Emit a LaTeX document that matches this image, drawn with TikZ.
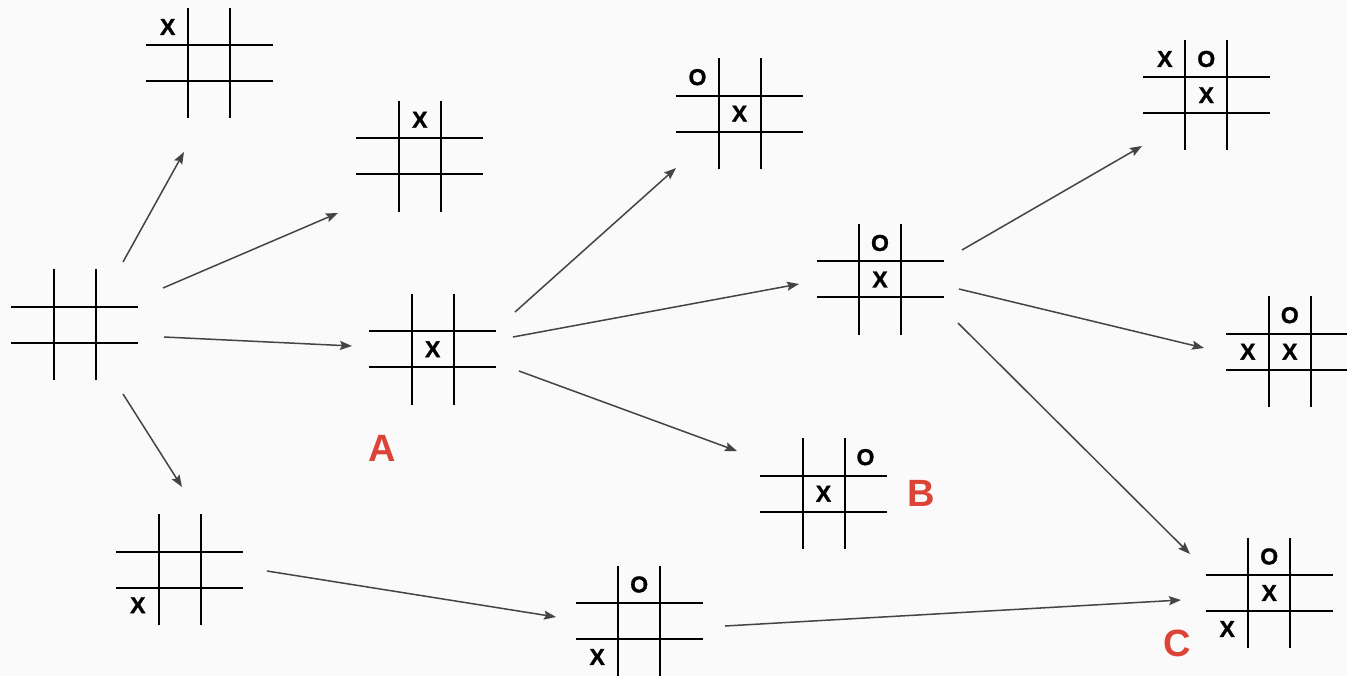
\documentclass[tikz,border=0pt]{standalone}
\usepackage{fontspec}
\setmainfont{Liberation Sans}
\newfontfamily\mkfont{Liberation Sans}[BoldFeatures={FakeBold=1.2}]
\usetikzlibrary{arrows.meta}
\definecolor{bg}{RGB}{250,250,250}
\definecolor{arr}{RGB}{68,68,68}
\definecolor{lbl}{RGB}{219,68,55}
\tikzset{
  gridline/.style={line width=2pt, black},
  ttt/.pic={
    \draw[gridline] (-63.5,-18) -- (63.5,-18);
    \draw[gridline] (-63.5,18) -- (63.5,18);
    \draw[gridline] (-21,-55.3) -- (-21,55.3);
    \draw[gridline] (21,-55.3) -- (21,55.3);
  },
  mk/.style={font=\mkfont\fontsize{23}{23}\selectfont\bfseries, inner sep=0pt, anchor=center},
  lab/.style={font=\fontsize{38}{38}\selectfont\bfseries, text=lbl, inner sep=0pt, anchor=center},
  conn/.style={arr, line width=1.5pt, -{Stealth[length=12pt,width=9pt,inset=2pt]}}
}
\begin{document}
\begin{tikzpicture}[x=1pt,y=-1pt]
\useasboundingbox (0,0) rectangle (1347,676);
\fill[bg] (0,0) rectangle (1347,676);
\clip (0,0) rectangle (1347,676);
% grids
\pic (g1) at (74.5,324.7) {ttt};
\pic (g2) at (209.2,63) {ttt};
\pic (g3) at (419.8,156.3) {ttt};
\pic (g4) at (432.7,349.3) {ttt};
\pic (g5) at (739.5,113.7) {ttt};
\pic (g6) at (880,279.5) {ttt};
\pic (g7) at (1206.3,95.2) {ttt};
\pic (g8) at (1289.8,351.7) {ttt};
\pic (g9) at (823.5,493.7) {ttt};
\pic (g10) at (179.8,569.7) {ttt};
\pic (g11) at (639.2,621) {ttt};
\pic (g12) at (1269.2,593) {ttt};
% marks
\node[mk] (m2a) at (167.7,27) {X};
\node[mk] (m3a) at (419.8,119.8) {X};
\node[mk] (m4a) at (432.7,349.3) {X};
\node[mk] (m5a) at (697.5,77.2) {O};
\node[mk] (m5b) at (739.5,113.7) {X};
\node[mk] (m6a) at (880,243) {O};
\node[mk] (m6b) at (880,279.5) {X};
\node[mk] (m7a) at (1164.8,59) {X};
\node[mk] (m7b) at (1206.3,59) {O};
\node[mk] (m7c) at (1206.3,95.2) {X};
\node[mk] (m8a) at (1289.8,315.2) {O};
\node[mk] (m8b) at (1247.8,351.7) {X};
\node[mk] (m8c) at (1289.8,351.7) {X};
\node[mk] (m9a) at (865.5,457.2) {O};
\node[mk] (m9b) at (823.5,493.7) {X};
\node[mk] (m10a) at (137.8,605.2) {X};
\node[mk] (m11a) at (639.2,584.5) {O};
\node[mk] (m11b) at (597.2,657) {X};
\node[mk] (m12a) at (1269.2,556.5) {O};
\node[mk] (m12b) at (1269.2,593) {X};
\node[mk] (m12c) at (1227.2,629) {X};
% labels
\node[lab] (A) at (382,448) {A};
\node[lab] (B) at (921.5,493) {B};
\node[lab] (C) at (1177,643.5) {C};
% connector ends
\coordinate (s1) at (123,262);   \coordinate (e1) at (184,152);
\coordinate (s2) at (163,288);   \coordinate (e2) at (338,213);
\coordinate (s3) at (164,337);   \coordinate (e3) at (352,346);
\coordinate (s4) at (123,394);   \coordinate (e4) at (182,487);
\coordinate (s5) at (515,312);   \coordinate (e5) at (676,168);
\coordinate (s6) at (513,337);   \coordinate (e6) at (799,284);
\coordinate (s7) at (519,371);   \coordinate (e7) at (737,451);
\coordinate (s8) at (267,571);   \coordinate (e8) at (556,617);
\coordinate (s9) at (725,626);   \coordinate (e9) at (1181,600);
\coordinate (s10) at (962,250);  \coordinate (e10) at (1142,146);
\coordinate (s11) at (959,289);  \coordinate (e11) at (1204,348);
\coordinate (s12) at (958,323);  \coordinate (e12) at (1190,554);
\foreach \i in {1,...,12} { \draw[conn] (s\i) -- (e\i); }
\end{tikzpicture}
\end{document}
